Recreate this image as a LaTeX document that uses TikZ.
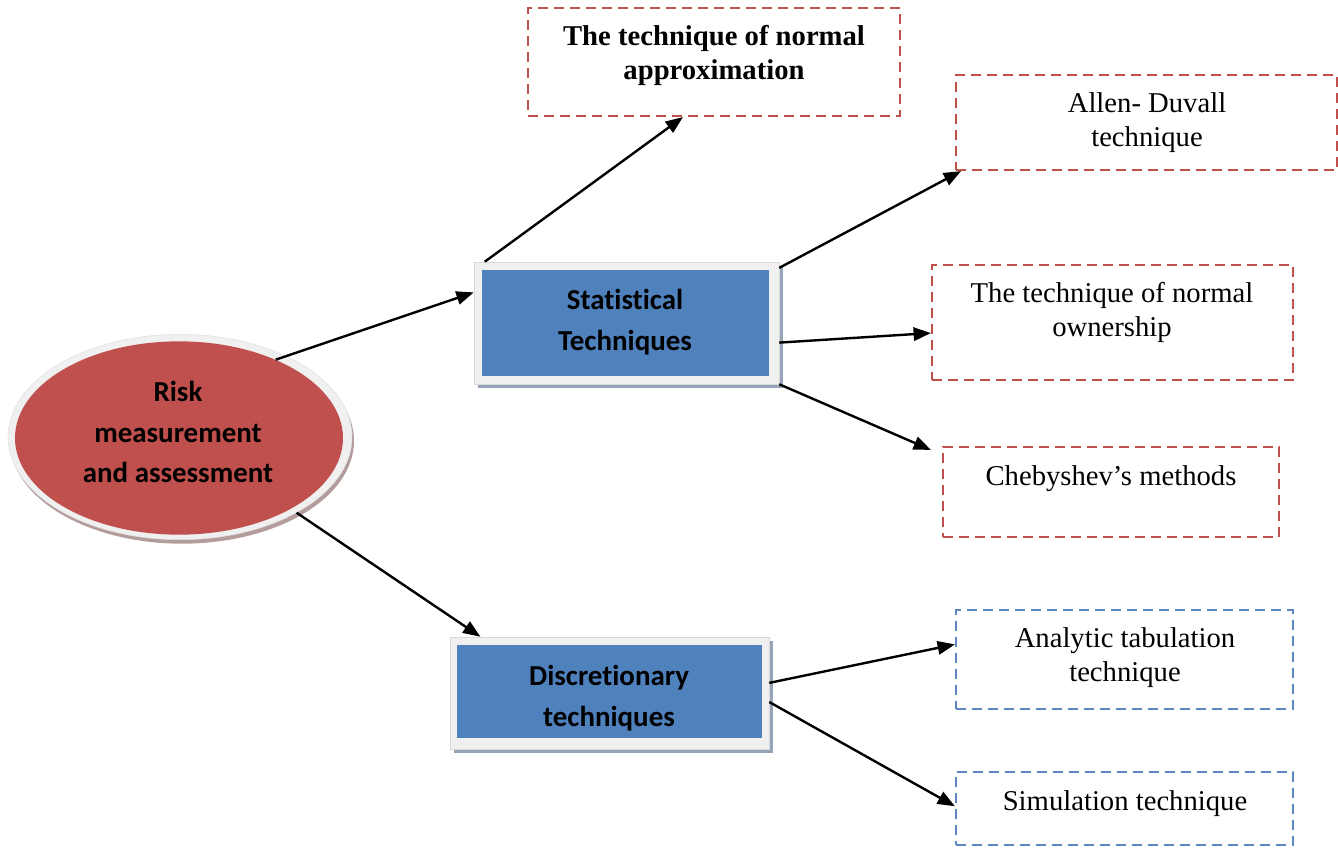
\documentclass[tikz,border=0pt]{standalone}
\usepackage{fontspec}
\setmainfont{Liberation Serif}
\newfontfamily\calfont[Ligatures=NoCommon]{Carlito}
\usetikzlibrary{shapes.geometric,fit,calc,arrows.meta}
\definecolor{boxred}{HTML}{C0504D}
\definecolor{boxblue}{HTML}{4F81BD}
\definecolor{dashblue}{HTML}{5B87C5}
\definecolor{shadowblue}{HTML}{97A5BB}
\definecolor{shell}{HTML}{F0F0F0}
\definecolor{shellshadow}{HTML}{B49C9C}
\begin{document}
\begin{tikzpicture}[x=0.75pt,y=-0.75pt,
  redbox/.style={draw=boxred,line width=1.6pt,dash pattern=on 7.5pt off 4.5pt,fill=white,inner sep=0pt},
  bluebox/.style={draw=dashblue,line width=1.6pt,dash pattern=on 7.5pt off 4.5pt,fill=white,inner sep=0pt},
  frame/.style={fill=shell,draw=black!15,line width=0.4pt,inner sep=0pt},
  shadowbox/.style={fill=shadowblue,inner sep=0pt},
  inner/.style={fill=boxblue,inner sep=0pt},
  serif/.style={align=center,inner sep=0pt,font=\fontsize{21.5}{25.5}\selectfont},
  serifbold/.style={align=center,inner sep=0pt,font=\fontsize{21.5}{25.5}\selectfont\bfseries},
  sans/.style={align=center,inner sep=0pt,font=\calfont\bfseries\fontsize{21.7}{30.5}\selectfont},
  conn/.style={line width=1.8pt,-{Triangle[length=13pt,width=10pt]}}]
\useasboundingbox (0,0) rectangle (1338,847);

% ellipse
\node[ellipse,fill=shellshadow,inner sep=0pt,minimum width=258pt,minimum height=154pt] (risksh) at (182,441) {};
\node[ellipse,fill=shell,draw=black!12,line width=0.4pt,inner sep=0pt,minimum width=258pt,minimum height=154pt] (riskshell) at (180,437) {};
\node[ellipse,fill=boxred,inner sep=0pt,minimum width=246pt,minimum height=145pt] (risk) at (179,438) {};
\node[sans] (risktxt) at (178,432) {Risk\\measurement\\and assessment};

% statistical box
\node[shadowbox,fit={(478,266)(783,388)}] (statsh) {};
\node[frame,fit={(474,262)(779,384)}] (stat) {};
\node[inner,fit={(482,270)(769,376)}] (statin) {};
\node[sans] (stattxt) at (625,322) {Statistical\\Techniques};

% discretionary box
\node[shadowbox,fit={(454,641)(773,753)}] (discsh) {};
\node[frame,fit={(450,637)(769,749)}] (disc) {};
\node[inner,fit={(457,645)(762,738)}] (discin) {};
\node[sans] (disctxt) at (609,698) {Discretionary\\techniques};

% red dashed boxes
\node[redbox,fit={(528,8)(900,116)}] (na) {};
\node[serifbold] (natxt) at (714,55) {The technique of normal\\approximation};
\node[redbox,fit={(956,75)(1337,170)}] (ad) {};
\node[serif] (adtxt) at (1147,123) {Allen- Duvall\\technique};
\node[redbox,fit={(932,265)(1293,380)}] (own) {};
\node[serif] (owntxt) at (1112,312) {The technique of normal\\ownership};
\node[redbox,fit={(943,447)(1279,537)}] (cheb) {};
\node[serif] (chebtxt) at (1111,479) {Chebyshev’s methods};

% blue dashed boxes
\node[bluebox,fit={(956,610)(1293,709)}] (ana) {};
\node[serif] (anatxt) at (1125,658) {Analytic tabulation\\technique};
\node[bluebox,fit={(956,772)(1293,845)}] (sim) {};
\node[serif] (simtxt) at (1125,804) {Simulation technique};

% connectors
\draw[conn] (risk.39) -- ($(stat.north west)!0.25!(stat.south west)$);
\draw[conn] ($(stat.north west)!0.036!(stat.north east)$) -- ($(na.south west)!0.417!(na.south east)$);
\draw[conn] ($(stat.north east)!0.05!(stat.south east)$) -- ($(ad.south west)!0.016!(ad.south east)$);
\draw[conn] ($(stat.north east)!0.66!(stat.south east)$) -- ($(own.north west)!0.59!(own.south west)$);
\draw[conn] (stat.south east) -- ($(cheb.north west)+(-11,4)$);
\draw[conn] (riskshell.-33) -- ($(disc.north west)!0.096!(disc.north east)$);
\draw[conn] ($(disc.north east)!0.41!(disc.south east)$) -- ($(ana.north west)!0.35!(ana.south west)$);
\draw[conn] ($(disc.north east)!0.58!(disc.south east)$) -- ($(sim.north west)!0.47!(sim.south west)$);
\end{tikzpicture}
\end{document}
